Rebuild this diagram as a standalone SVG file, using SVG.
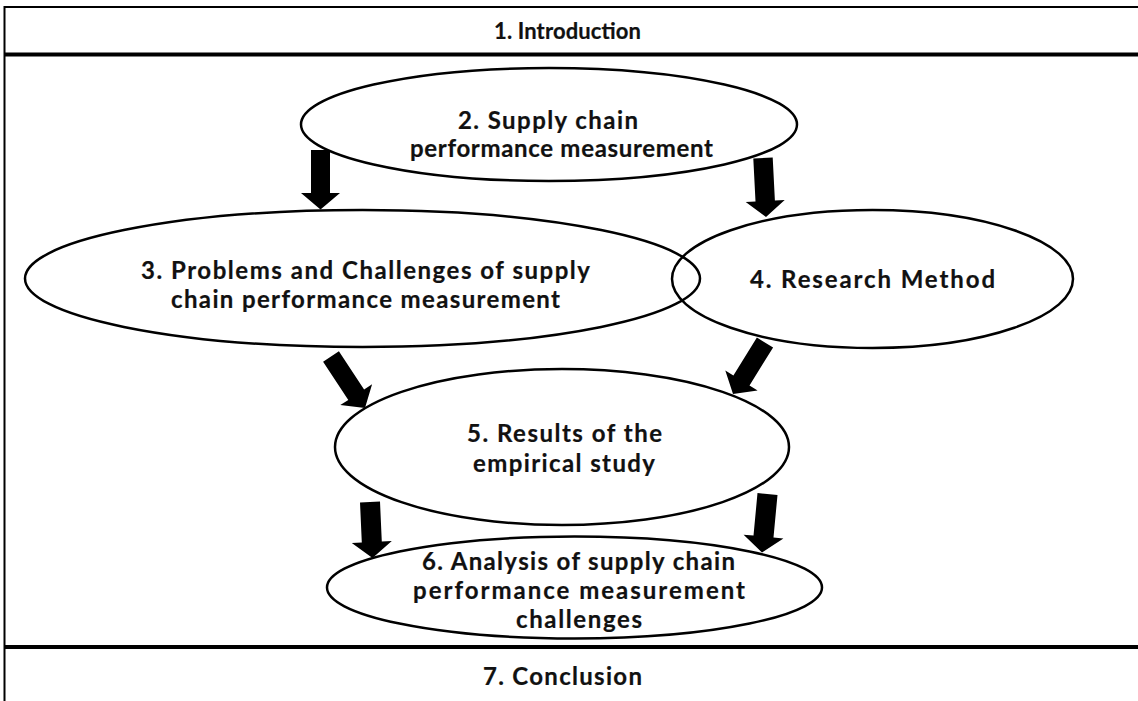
<svg xmlns="http://www.w3.org/2000/svg" width="1138" height="701" viewBox="0 0 1138 701">
  <style>
    .frame { stroke: #000; stroke-width: 2; fill: none; }
    .divider { stroke: #000; stroke-width: 4; fill: none; }
    .node { stroke: #000; stroke-width: 2.5; fill: none; }
    .arrow { fill: #000; stroke: none; }
    .label { font-family: Lato, "Open Sans", "Liberation Sans", sans-serif; font-weight: 700; font-size: 24px; fill: #111; stroke: #111; stroke-width: 0.2; }
    .small { font-size: 22px; }
  </style>
  <rect x="0" y="0" width="1138" height="701" fill="#fff"/>

  <!-- page frame and section bands -->
  <g id="frame">
    <line class="frame" x1="4.5" y1="7" x2="1138" y2="7"/>
    <line class="frame" x1="4.5" y1="6" x2="4.5" y2="701"/>
    <line class="divider" x1="4" y1="54.5" x2="1138" y2="54.5"/>
    <line class="divider" x1="4" y1="647" x2="1138" y2="647"/>
  </g>

  <g id="n1">
    <text class="label small" x="494" y="38.5" textLength="147" lengthAdjust="spacing">1. Introduction</text>
  </g>

  <g id="n2">
    <ellipse class="node" cx="549" cy="124.5" rx="248" ry="56.5"/>
    <text class="label" x="458" y="129" textLength="180" lengthAdjust="spacing">2. Supply chain</text>
    <text class="label" x="410" y="157" textLength="303" lengthAdjust="spacing">performance measurement</text>
  </g>

  <g id="n3">
    <ellipse class="node" cx="362.5" cy="278.5" rx="337.5" ry="68.5"/>
    <text class="label" x="141" y="279" textLength="449" lengthAdjust="spacing">3. Problems and Challenges of supply</text>
    <text class="label" x="171" y="308" textLength="389" lengthAdjust="spacing">chain performance measurement</text>
  </g>

  <g id="n4">
    <ellipse class="node" cx="872.5" cy="279" rx="200.5" ry="69"/>
    <text class="label" x="750" y="288" textLength="245" lengthAdjust="spacing">4. Research Method</text>
  </g>

  <g id="n5">
    <ellipse class="node" cx="562" cy="447" rx="227" ry="78"/>
    <text class="label" x="467" y="442" textLength="195" lengthAdjust="spacing">5. Results of the</text>
    <text class="label" x="473" y="472" textLength="182" lengthAdjust="spacing">empirical study</text>
  </g>

  <g id="n6">
    <ellipse class="node" cx="574.5" cy="587.5" rx="247.5" ry="51"/>
    <text class="label" x="422" y="570" textLength="313" lengthAdjust="spacing">6. Analysis of supply chain</text>
    <text class="label" x="413" y="599" textLength="332" lengthAdjust="spacing">performance measurement</text>
    <text class="label" x="516" y="628" textLength="126" lengthAdjust="spacing">challenges</text>
  </g>

  <g id="n7">
    <text class="label" x="483" y="685" textLength="159" lengthAdjust="spacing">7. Conclusion</text>
  </g>

  <!-- block arrows between sections -->
  <g id="connectors">
    <polygon class="arrow" points="311,150 330,150 330,193 340,193 320.5,209.5 301,193 311,193"/>
    <polygon class="arrow" points="753.3,158.5 772.7,157.5 774.9,200.5 784.7,200 766,217 745.7,202 755.5,201.5"/>
    <polygon class="arrow" points="323.1,361.7 338.9,351.3 364.1,389.4 372.1,384.2 365,408 340.3,405.1 348.3,399.9"/>
    <polygon class="arrow" points="756.9,337.5 773.1,347.5 749.5,385.4 757.6,390.4 733,394 725.3,370.4 733.4,375.4"/>
    <polygon class="arrow" points="360,502.4 380,501.6 381.8,541.6 391.8,541.1 372.5,558 351.8,542.9 361.8,542.5"/>
    <polygon class="arrow" points="757.5,493.1 777.5,494.9 773.5,537.5 783.4,538.4 762,552.5 743.6,534.7 753.5,535.6"/>
  </g>
</svg>
